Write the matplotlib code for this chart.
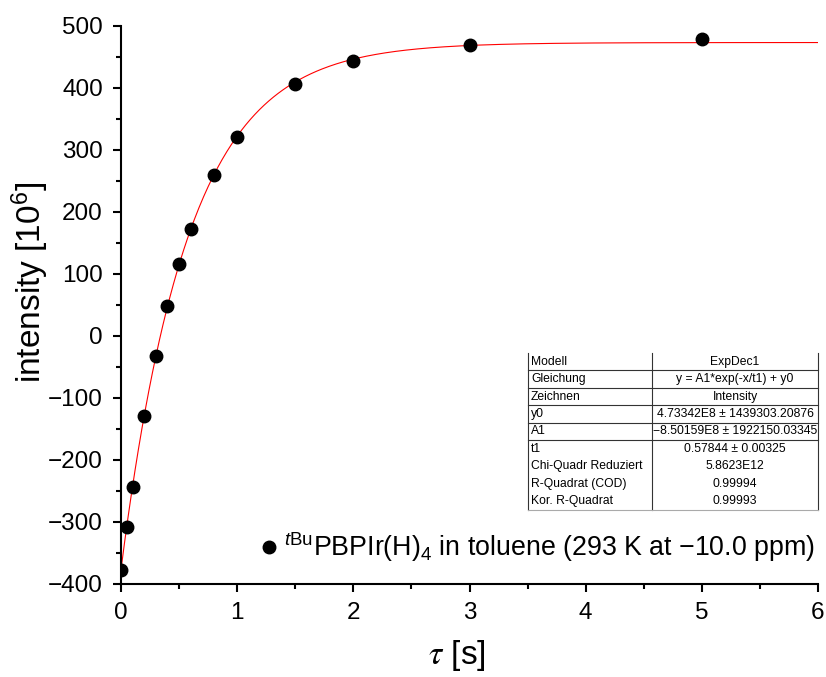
import numpy as np
import matplotlib
matplotlib.use("Agg")
import matplotlib.pyplot as plt
from matplotlib.ticker import MultipleLocator
from matplotlib.lines import Line2D

plt.rcParams["font.family"] = ["Liberation Sans", "DejaVu Sans"]
plt.rcParams["mathtext.fontset"] = "custom"
plt.rcParams["mathtext.rm"] = "Liberation Sans"
plt.rcParams["mathtext.it"] = "Liberation Sans:italic"
plt.rcParams["mathtext.bf"] = "Liberation Sans:bold"

# Relaxation delay (s) and signal intensity (10^6)
tau = [0.0, 0.05, 0.1, 0.2, 0.3, 0.4, 0.5, 0.6, 0.8, 1.0, 1.5, 2.0, 3.0, 5.0]
intensity = [-378, -308, -243, -129, -33, 48, 116, 173, 259, 321, 406, 443, 469, 479]

# ExpDec1 fit parameters (intensity in 10^6)
y0 = 473.342
A1 = -850.159
t1 = 0.57844

series_label = r"$^{\mathit{t}\mathrm{Bu}}$PBPIr(H)$_4$ in toluene (293 K at $-$10.0 ppm)"

table_keys = ["Modell", "Gleichung", "Zeichnen", "y0", "A1", "t1",
              "Chi-Quadr Reduziert", "R-Quadrat (COD)", "Kor. R-Quadrat"]
table_vals = ["ExpDec1", "y = A1*exp(-x/t1) + y0", "Intensity",
              "4.73342E8 \u00b1 1439303.20876", "\u22128.50159E8 \u00b1 1922150.03345",
              "0.57844 \u00b1 0.00325", "5.8623E12", "0.99994", "0.99993"]
ruled_rows = 6  # rows separated by horizontal rules

W, H = 826, 677
fig = plt.figure(figsize=(W / 100, H / 100), dpi=100)
ax = fig.add_axes([121 / W, 1 - 584 / H, (818 - 121) / W, (584 - 26) / H])

xfit = np.linspace(0, 6, 600)
ax.plot(xfit, y0 + A1 * np.exp(-xfit / t1), color="red", lw=0.8, zorder=2)
ax.plot(tau, intensity, "o", color="black", ms=9, zorder=3, label=series_label)

ax.set_xlim(0, 6)
ax.set_ylim(-400, 500)
ax.xaxis.set_major_locator(MultipleLocator(1))
ax.xaxis.set_minor_locator(MultipleLocator(0.5))
ax.yaxis.set_major_locator(MultipleLocator(100))
ax.yaxis.set_minor_locator(MultipleLocator(50))
for s in ("top", "right"):
    ax.spines[s].set_visible(False)
for s in ("left", "bottom"):
    ax.spines[s].set_linewidth(1.5)
ax.tick_params(which="major", direction="out", length=6, width=1.5, labelsize=17.5, pad=7)
ax.tick_params(which="minor", direction="out", length=3.5, width=1.5)

ax.set_ylabel(r"intensity [10$^6$]", fontsize=24, va="center")
ax.yaxis.set_label_coords(-0.13, 0.541)
ax.set_xlabel(r"$\tau$ [s]", fontsize=24, math_fontfamily="stix", va="center")
ax.xaxis.set_label_coords(0.482, -0.128)

leg = ax.legend(loc="lower right", bbox_to_anchor=(0.9957, 0.035), frameon=False,
                fontsize=19.3, handletextpad=0.06, borderpad=0, borderaxespad=0,
                markerscale=1.0, handlelength=1.0)

# Fit results table drawn in pixel coordinates
def fx(px):
    return px / W

def fy(py):
    return 1 - py / H

left, mid, right = 528, 652, 818
top, bottom = 353, 510
n = len(table_keys)
rh = (bottom - top) / n
line_kw = dict(color="#333333", lw=0.8, transform=fig.transFigure)
fig.add_artist(Line2D([fx(left)] * 2, [fy(top), fy(bottom)], **line_kw))
fig.add_artist(Line2D([fx(mid)] * 2, [fy(top), fy(bottom)], **line_kw))
fig.add_artist(Line2D([fx(right)] * 2, [fy(top), fy(bottom)], **line_kw))
fig.add_artist(Line2D([fx(left), fx(right)], [fy(bottom)] * 2,
                      color="#aaaaaa", lw=0.8, transform=fig.transFigure))
for i in range(1, ruled_rows):
    yy = top + i * rh
    fig.add_artist(Line2D([fx(left), fx(right)], [fy(yy)] * 2, **line_kw))
for i, (k, v) in enumerate(zip(table_keys, table_vals)):
    yc = top + (i + 0.5) * rh
    fig.text(fx(left + 3), fy(yc), k, fontsize=8.7, va="center", ha="left")
    fig.text(fx((mid + right) / 2), fy(yc), v, fontsize=8.7, va="center", ha="center")

fig.savefig("out.png", dpi=100)
